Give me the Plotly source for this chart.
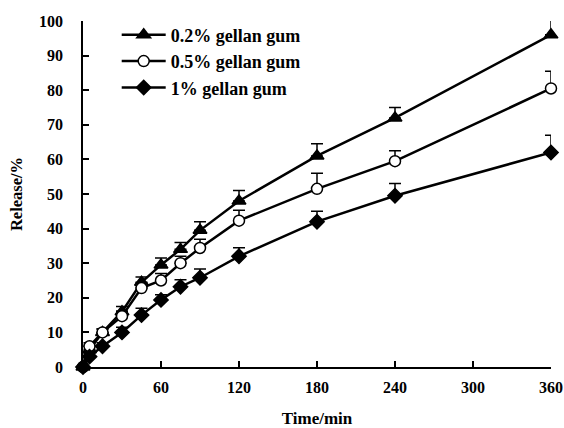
import plotly.graph_objects as go

time_min = [0, 5, 15, 30, 45, 60, 75, 90, 120, 180, 240, 360]
gg_02 = [0, 5, 10, 16, 24.5, 29.5, 34, 39.5, 48, 61, 72, 96]
gg_02_err = [0, 1, 1, 1.5, 1.5, 2, 2, 2.5, 3, 3.5, 3, 5]
gg_05 = [0, 6, 10, 14.7, 22.8, 25, 30, 34.4, 42.3, 51.5, 59.5, 80.5]
gg_05_err = [0, 1, 1, 1.5, 1.5, 2, 2, 2.5, 3, 4.5, 3, 5]
gg_1 = [0, 3, 6, 10, 15, 19.4, 23.2, 25.8, 32, 42, 49.5, 62]
gg_1_err = [0, 1, 1, 1.5, 2, 1.5, 2, 2.5, 2.5, 3, 3.5, 5]

names = ["0.2% gellan gum", "0.5% gellan gum", "1% gellan gum"]
font_family = "Liberation Serif"

fig = go.Figure()

def add(name, y, err, symbol, fill, size, group):
    fig.add_trace(go.Scatter(
        x=time_min, y=y, name=name, mode="lines+markers",
        legendgroup=group,
        line=dict(color="black", width=2.5),
        marker=dict(symbol=symbol, size=size, color=fill,
                    line=dict(color="black", width=1.5)),
        error_y=dict(type="data", array=err, arrayminus=[0]*len(err),
                     symmetric=False, color="black", thickness=1.5, width=6),
        cliponaxis=False,
    ))

add(names[0], gg_02, gg_02_err, "triangle-up", "black", 12, "a")
add(names[1], gg_05, gg_05_err, "circle", "white", 11, "b")
add(names[2], gg_1, gg_1_err, "diamond", "black", 11, "c")

fig.update_layout(
    width=564, height=428,
    margin=dict(l=83, r=13, t=21, b=61),
    paper_bgcolor="white", plot_bgcolor="white",
    font=dict(family=font_family, color="black"),
    showlegend=True,
    legend=dict(x=0.072, y=1.013, xanchor="left", yanchor="top",
                font=dict(family=font_family, size=18, color="black", weight="bold"),
                bgcolor="rgba(0,0,0,0)", traceorder="grouped", tracegroupgap=0,
                itemwidth=44),
    xaxis=dict(
        range=[0, 360], tickvals=[0, 60, 120, 180, 240, 300, 360],
        automargin=False,
        showgrid=False, zeroline=False, showline=True, linecolor="black", linewidth=1.5,
        ticks="inside", ticklen=6, tickcolor="black", tickwidth=1.5,
        ticklabelstandoff=5,
        tickfont=dict(family=font_family, size=16, color="black", weight="bold"),
        title=dict(text="<b>Time/min</b>", font=dict(family=font_family, size=17, color="black"), standoff=25),
    ),
    yaxis=dict(
        range=[0, 100], tickvals=list(range(0, 101, 10)),
        automargin=False,
        showgrid=False, zeroline=False, showline=True, linecolor="black", linewidth=1.5,
        ticks="inside", ticklen=6, tickcolor="black", tickwidth=1.5,
        ticklabelstandoff=15,
        tickfont=dict(family=font_family, size=16, color="black", weight="bold"),
        title=dict(text="<b>Release/%</b>", font=dict(family=font_family, size=16.5, color="black"), standoff=12),
    ),
)

fig.write_html("out.html", config={"displayModeBar": False},
               post_script="document.body.style.margin='0';document.body.style.overflow='hidden';")
